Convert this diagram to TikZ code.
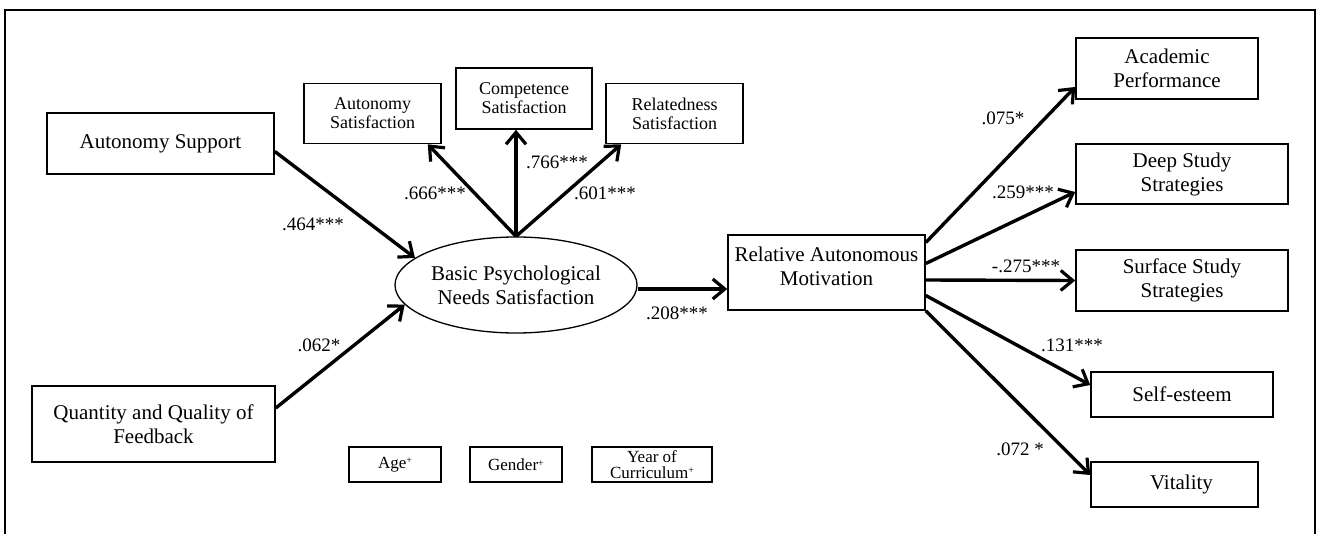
\documentclass[tikz,border=0pt]{standalone}
\usepackage{fontspec}
\setmainfont{Liberation Serif}
\usetikzlibrary{shapes.geometric,arrows.meta,calc}
\tikzset{
  bigbox/.style={draw, line width=1.6pt, align=center, inner sep=0pt,
    font=\fontsize{21}{24}\selectfont},
  smallbox/.style={draw, line width=1.6pt, align=center, inner sep=0pt,
    font=\fontsize{18}{19}\selectfont},
  ctrlbox/.style={draw, line width=1.6pt, align=center, inner sep=0pt,
    font=\fontsize{17}{15.5}\selectfont},
  arr/.style={line width=3.4pt, -{Straight Barb[length=12pt,width=20pt,line width=3.2pt]}},
  lab/.style={font=\fontsize{19}{20}\selectfont, inner sep=0pt},
}
\newcommand{\plusmark}{\raisebox{0.55ex}{\fontsize{10}{10}\selectfont +}}
\begin{document}
\begin{tikzpicture}[x=1pt,y=-1pt]
\useasboundingbox (0,0) rectangle (1321,534);
\draw[line width=2pt] (5,534) -- (5,10) -- (1315,10) -- (1315,534);

\node[bigbox, minimum width=227, minimum height=61] (as) at (160.5,143.5) {Autonomy Support};
\node[bigbox, minimum width=243, minimum height=76] (q) at (153.5,424) {Quantity and Quality of\\Feedback};
\node[smallbox, minimum width=137, minimum height=60] (asat) at (372.5,113.5) {Autonomy\\Satisfaction};
\node[smallbox, minimum width=136, minimum height=61] (csat) at (524,98.5) {Competence\\Satisfaction};
\node[smallbox, minimum width=137, minimum height=60] (rsat) at (674.5,113.5) {Relatedness\\Satisfaction};
\node[draw, ellipse, line width=1.3pt, inner sep=0pt, minimum width=242, minimum height=96,
  align=center, font=\fontsize{21}{24}\selectfont] (bp) at (516,285) {Basic Psychological\\Needs Satisfaction};
\node[draw, line width=1.6pt, minimum width=197, minimum height=75] (ram) at (826.5,272.5) {};
\node[align=center, inner sep=0pt, font=\fontsize{21}{24}\selectfont] (ramt) at (826.5,266) {Relative Autonomous\\Motivation};
\node[bigbox, minimum width=182, minimum height=61] (acad) at (1167,68.5) {Academic\\Performance};
\node[bigbox, minimum width=212, minimum height=60] (deep) at (1182,174) {Deep Study\\Strategies};
\node[bigbox, minimum width=212, minimum height=61] (surf) at (1182,280.5) {Surface Study\\Strategies};
\node[bigbox, minimum width=182, minimum height=45] (self) at (1182,394.5) {Self-esteem};
\node[bigbox, minimum width=167, minimum height=45] (vit) at (1174.5,484.5) {\hspace*{14pt}Vitality};
\node[ctrlbox, minimum width=92, minimum height=35] (age) at (395,464.5) {Age\plusmark};
\node[ctrlbox, minimum width=92, minimum height=35] (gen) at (516,464.5) {Gender\plusmark};
\node[ctrlbox, minimum width=120, minimum height=35] (year) at (652,464.5) {Year of\\Curriculum\plusmark};

\draw[arr] ($(as.east)+(0,8)$) -- (bp.165);
\draw[arr] ($(q.east)+(0,-16)$) -- (bp.190);
\draw[arr] (bp.north) -- ($(asat.south east)+(-14,0)$);
\draw[arr] (bp.north) -- (bp.north |- csat.south);
\draw[arr] (bp.north) -- ($(rsat.south west)+(16,0)$);
\draw[arr] ($(bp.east)+(0,4)$) -- ($(bp.east -| ram.west)+(0,4)$);
\draw[arr] ($(ram.east)+(0,-30)$) -- ($(acad.west)+(0,18.5)$);
\draw[arr] ($(ram.east)+(0,-9)$) -- ($(deep.west)+(0,18)$);
\draw[arr] ($(ram.east)+(0,7.5)$) -- ($(surf.west)+(0,0)$);
\draw[arr] ($(ram.east)+(0,23)$) -- ($(self.west)+(0,-9.5)$);
\draw[arr] (ram.south east) -- ($(vit.west)+(0,-9.5)$);

\node[lab] (l1) at (313,224) {.464***};
\node[lab] (l2) at (319,345) {.062*};
\node[lab] (l3) at (435,193) {.666***};
\node[lab] (l4) at (557,162) {.766***};
\node[lab] (l5) at (605,193) {.601***};
\node[lab] (l6) at (677,313) {.208***};
\node[lab] (l7) at (1003,118) {.075*};
\node[lab] (l8) at (1023,192) {.259***};
\node[lab] (l9) at (1026,266) {-.275***};
\node[lab] (l10) at (1072,345) {.131***};
\node[lab] (l11) at (1020,449) {.072 *};
\end{tikzpicture}
\end{document}
